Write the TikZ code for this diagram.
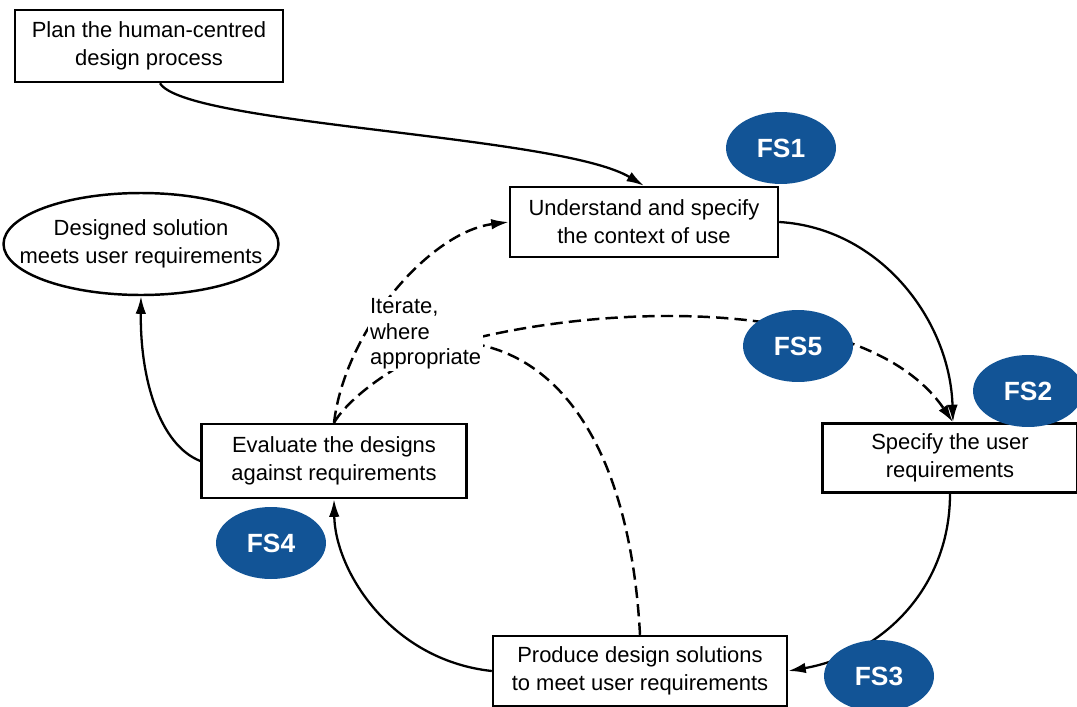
\documentclass[tikz,border=0pt]{standalone}
\usepackage{fontspec}
\setmainfont{Liberation Sans}
\usepackage{xcolor}
\usepackage{tikz}
\usetikzlibrary{calc, positioning, arrows.meta, shapes.geometric}
\definecolor{fsblue}{RGB}{18,84,150}
\tikzset{
    stage/.style={rectangle, draw=black, line width=1.4pt, fill=white, align=center, font=\fontsize{12.5}{16}\selectfont},
    goal/.style={ellipse, draw=black, line width=1.4pt, fill=white, align=center, minimum width=5.5cm, minimum height=2.04cm, inner xsep=-0.8cm, inner ysep=0pt, font=\fontsize{12.5}{16}\selectfont},
    fs/.style={ellipse, fill=fsblue, text=white, minimum width=2.2cm, minimum height=1.44cm, inner sep=0pt, font=\fontsize{15}{18}\selectfont\bfseries},
    arrow/.style={-{Latex[length=10pt,width=6pt]}, line width=1.3pt},
    iterline/.style={dash pattern=on 7pt off 3.5pt, line width=1.4pt},
    note/.style={align=left, fill=white, inner sep=1pt, font=\fontsize{12.5}{14.5}\selectfont}
}

\begin{document}
\begin{tikzpicture}[x=0.02cm, y=-0.02cm]
    \useasboundingbox (0,0) rectangle (1077,706);

    % Stages
    \node[stage, minimum width=5.36cm, minimum height=1.44cm] (plan) at (149,46) {Plan the human-centred\\design process};
    \node[stage, minimum width=5.36cm, minimum height=1.40cm] (context) at (644,222) {Understand and specify\\the context of use};
    \node[stage, minimum width=5.10cm, minimum height=1.38cm] (require) at (950,458) {Specify the user\\requirements};
    \node[stage, minimum width=5.88cm, minimum height=1.40cm] (produce) at (640,671) {Produce design solutions\\to meet user requirements};
    \node[stage, minimum width=5.30cm, minimum height=1.48cm] (evaluate) at (334,461) {Evaluate the designs\\against requirements};
    \node[goal] (done) at (141,244) {Designed solution\\meets user requirements};

    % Main cycle
    \draw[arrow] ([xshift=0.22cm]plan.south) .. controls (185,125) and (560,135) .. (context.north);
    \draw[arrow] (context.east) .. controls (880,228) and (950,320) .. ([xshift=0.06cm]require.north);
    \draw[arrow] (require.south) .. controls (950,590) and (880,655) .. (produce.east);
    \draw[arrow] (produce.west) .. controls (390,660) and (335,570) .. (evaluate.south);
    \draw[arrow] (evaluate.west) .. controls (160,445) and (140,380) .. (done.south);

    % Iteration
    \coordinate (iter) at (460,342);
    \draw[iterline, -{Latex[length=10pt,width=6pt]}] (evaluate.north) .. controls (345,330) and (430,232) .. (context.west);
    \draw[iterline] (evaluate.north) .. controls (350,395) and (410,352) .. (iter);
    \draw[iterline, -{Latex[length=10pt,width=6pt]}] (iter) .. controls (620,300) and (870,300) .. ([xshift=0.06cm]require.north);
    \draw[iterline] (produce.north) .. controls (630,450) and (560,350) .. (iter);
    \node[note, anchor=west] (iterate) at (368,334) {Iterate,\\where\\appropriate};

    % Process steps
    \node[fs] (fs1) at (781,148) {FS1};
    \node[fs] (fs5) at (798,346) {FS5};
    \node[fs] (fs2) at (1028,391) {FS2};
    \node[fs] (fs3) at (879,676) {FS3};
    \node[fs] (fs4) at (271,543) {FS4};
\end{tikzpicture}
\end{document}
